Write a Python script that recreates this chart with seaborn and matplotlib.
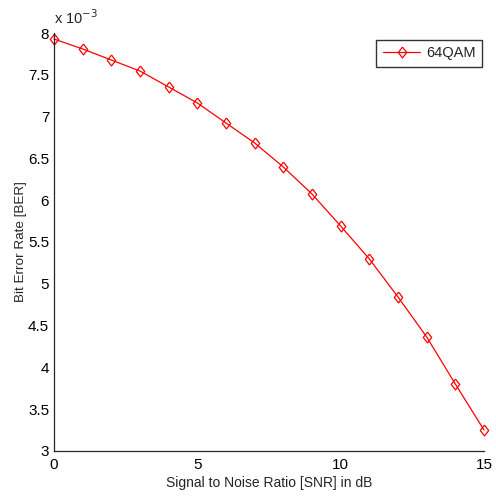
import matplotlib
matplotlib.use("Agg")
import matplotlib.pyplot as plt
import seaborn as sns
import pandas as pd

snr_db = [0, 1, 2, 3, 4, 5, 6, 7, 8, 9, 10, 11, 12, 13, 14, 15]
ber_e3 = [7.928, 7.809, 7.677, 7.545, 7.354, 7.163, 6.923, 6.684,
          6.397, 6.074, 5.691, 5.297, 4.842, 4.364, 3.801, 3.251]
series_name = "64QAM"
y_ticks = [3, 3.5, 4, 4.5, 5, 5.5, 6, 6.5, 7, 7.5, 8]
y_tick_labels = ["3", "3.5", "4", "4.5", "5", "5.5", "6", "6.5", "7", "7.5", "8"]
x_ticks = [0, 5, 10, 15]

df = pd.DataFrame({"snr": snr_db, "ber": ber_e3, "mod": series_name})

sns.set_style("white")
plt.rcParams["font.family"] = ["Liberation Sans", "DejaVu Sans"]

fig = plt.figure(figsize=(4.96, 4.97), dpi=100)
ax = fig.add_axes([0.1089, 0.0926, 0.8669, 0.841])

# open diamond, a little taller than wide
diamond = [(0, 1), (0.78, 0), (0, -1), (-0.78, 0), (0, 1)]

sns.lineplot(data=df, x="snr", y="ber", hue="mod", palette=["#ff0000"],
             marker=diamond, markersize=7.8, markerfacecolor="none",
             markeredgecolor="#ff0000", markeredgewidth=0.9,
             linewidth=0.9, ax=ax, clip_on=False)

ax.set_xlim(0, 15)
ax.set_ylim(3, 8)
ax.set_xticks(x_ticks)
ax.set_xticklabels([str(t) for t in x_ticks])
ax.set_yticks(y_ticks)
ax.set_yticklabels(y_tick_labels)
ax.tick_params(direction="in", length=5, width=0.8, labelsize=11,
               colors="#262626", pad=3.5)
ax.tick_params(axis="both", labelcolor="black")
ax.tick_params(axis="x", pad=5)

for side in ("top", "right"):
    ax.spines[side].set_visible(False)
for side in ("left", "bottom"):
    ax.spines[side].set_color("#262626")
    ax.spines[side].set_linewidth(0.9)

ax.set_xlabel("Signal to Noise Ratio [SNR] in dB", fontsize=10)
ax.set_ylabel("Bit Error Rate [BER]", fontsize=9.7)
ax.xaxis.label.set_va("center")
ax.yaxis.label.set_va("center")
ax.xaxis.set_label_coords(0.5, -0.077)
ax.yaxis.set_label_coords(-0.076, 0.5)

ax.text(0.0, 1.015, r"x 10$^{-3}$", transform=ax.transAxes, fontsize=10.5,
        ha="left", va="bottom")

leg = ax.legend(loc="upper right", bbox_to_anchor=(0.9965, 0.984),
                fontsize=10.5, frameon=True, fancybox=False, handlelength=2.6,
                borderpad=0.45, handletextpad=0.4, borderaxespad=0.0)
leg.get_frame().set_edgecolor("black")
leg.get_frame().set_linewidth(1.0)
leg.set_title(None)

fig.savefig("out.png", dpi=100)
